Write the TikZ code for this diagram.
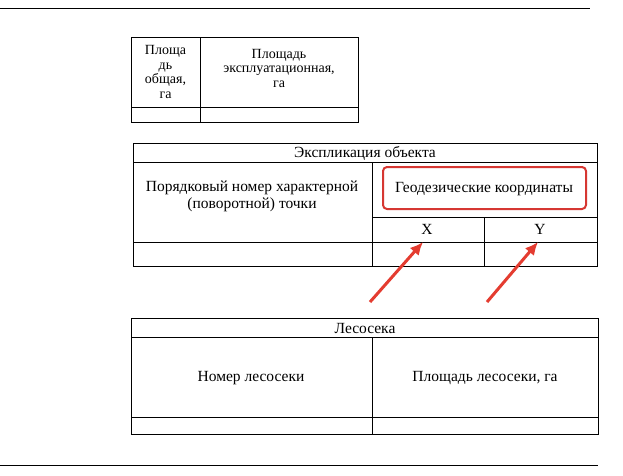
\documentclass[tikz,border=0pt]{standalone}
\usepackage{fontspec}
\setmainfont{Liberation Serif}
\usetikzlibrary{arrows.meta}
\begin{document}
\begin{tikzpicture}[x=1pt,y=-1pt,
  cell/.style={draw=black,line width=0.8pt},
  lbl/.style={font=\fontsize{15.5}{17}\selectfont,align=center,inner sep=0pt},
  slbl/.style={font=\fontsize{14}{14.5}\selectfont,align=center,inner sep=0pt},
  redarrow/.style={draw={rgb,255:red,228;green,60;blue,48},line width=3pt,-{Latex[length=13pt,width=12pt]}},
  redbox/.style={draw={rgb,255:red,214;green,55;blue,50},line width=2pt,rounded corners=4pt}]
\useasboundingbox (0,0) rectangle (623,475);
\fill[white] (0,0) rectangle (623,475);
\draw[line width=0.8pt] (0,8) -- (590,8);
\draw[line width=0.8pt] (0,465) -- (598,465);
% table 1
\draw[cell] (131,37) rectangle (358,122);
\draw[cell] (200,37) -- (200,122);
\draw[cell] (131,107) -- (358,107);
\node[slbl] (t1a) at (165.5,72) {Площа\\дь\\общая,\\га};
\node[slbl] (t1b) at (279,68) {Площадь\\эксплуатационная,\\га};
% table 2
\draw[cell] (133,143) rectangle (597,266);
\draw[cell] (133,162) -- (597,162);
\draw[cell] (372,162) -- (372,266);
\draw[cell] (372,217) -- (597,217);
\draw[cell] (133,242) -- (597,242);
\draw[cell] (484,217) -- (484,266);
\node[lbl] (t2h) at (365,153) {Экспликация объекта};
\node[lbl] (t2l) at (252,196) {Порядковый номер характерной\\(поворотной) точки};
\node[lbl] (geo) at (484,189) {Геодезические координаты};
\draw[redbox] (383,167) rectangle (586,209);
\node[lbl] (x) at (427,229) {X};
\node[lbl] (y) at (540,229) {Y};
\coordinate (ax) at (370,302);
\coordinate (ay) at (487,302);
\coordinate (hx) at (423,242);
\coordinate (hy) at (538,242);
\draw[redarrow] (ax) -- (hx);
\draw[redarrow] (ay) -- (hy);
% table 3
\draw[cell] (131,318) rectangle (598,434);
\draw[cell] (131,337) -- (598,337);
\draw[cell] (372,337) -- (372,434);
\draw[cell] (131,417) -- (598,417);
\node[lbl] (t3h) at (365,328) {Лесосека};
\node[lbl] (t3l) at (251,378) {Номер лесосеки};
\node[lbl] (t3r) at (485,378) {Площадь лесосеки, га};
\end{tikzpicture}
\end{document}
